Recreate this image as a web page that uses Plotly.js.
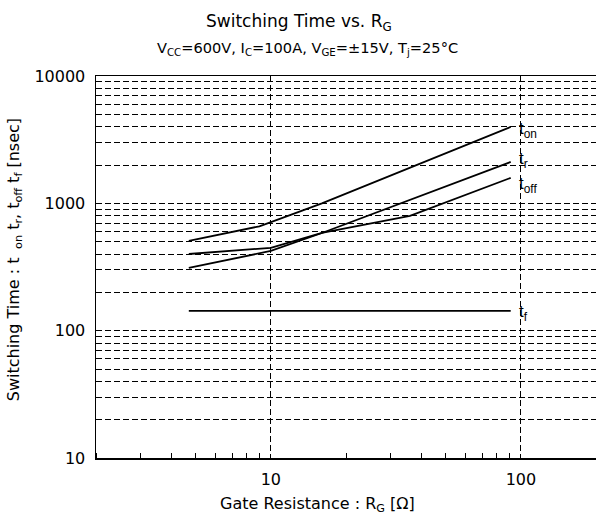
<!DOCTYPE html>
<html><head><meta charset="utf-8">
<script src="https://cdn.plot.ly/plotly-3.0.1.min.js"></script>
<style>html,body{margin:0;padding:0;overflow:hidden;background:#fff;width:596px;height:514px}</style>
</head><body><div id="chart"></div>
<script>
// Gate resistance (ohm) and switching times (nsec)
var rgOn = [4.7, 9, 16, 40, 91];
var tOn = [507, 660, 1000, 2075, 3985];
var rgR = [4.7, 10, 16, 40, 91];
var tR = [311, 423, 585, 1143, 2114];
var rgOff = [4.7, 10, 16, 36, 91];
var tOff = [400, 447, 585, 796, 1586];
var rgF = [4.7, 91];
var tF = [143, 143];

var yTickVals = [], yTickText = [];
[10, 100, 1000].forEach(function(d){
  for (var k = 1; k <= 9; k++) { yTickVals.push(k*d); yTickText.push(k === 1 ? String(d) : ''); }
});
yTickVals.push(10000); yTickText.push('10000');
var xMinor = [2,3,4,5,6,7,8,9,20,30,40,50,60,70,80,90,200,300];

var line = {color:'#000', width:1.8};
var traces = [
  {x: rgOn, y: tOn, mode:'lines', line: line},
  {x: rgR, y: tR, mode:'lines', line: line},
  {x: rgOff, y: tOff, mode:'lines', line: line},
  {x: rgF, y: tF, mode:'lines', line: line}
];
var F = 'DejaVu Sans, sans-serif';
var L = 'Liberation Sans, Arial, sans-serif';
var lab = function(x, y, t){ return {xref:'x', yref:'y', x:x, y:y, text:t, showarrow:false, xanchor:'left', yanchor:'middle', font:{family:L, size:17, color:'#000'}}; };
var layout = {
  width: 650, height: 514,
  margin: {l:96, r:4, t:76, b:56},
  paper_bgcolor:'#fff', plot_bgcolor:'#fff',
  showlegend:false,
  font:{family:F, color:'#000', size:15},
  xaxis: {type:'log', range:[Math.log10(2), 2.5], tickvals:[10,100], ticktext:['10','100'],
    showgrid:true, gridcolor:'#000', griddash:'6px,3px', gridwidth:1,
    ticks:'', showline:true, linecolor:'#000', linewidth:1.5, mirror:true, zeroline:false,
    tickfont:{size:16, family:F}, ticklabelstandoff:6,
    minor:{tickvals:xMinor, ticks:'inside', ticklen:5, tickcolor:'#000', showgrid:false}},
  yaxis: {type:'log', range:[1,4], tickvals:yTickVals, ticktext:yTickText,
    showgrid:true, gridcolor:'#000', griddash:'6px,3px', gridwidth:1,
    ticks:'', showline:true, linecolor:'#000', linewidth:1.5, mirror:true, zeroline:false,
    tickfont:{size:16, family:F}, ticklabelstandoff:6},
  annotations: [
    {xref:'paper', yref:'paper', x:0.369, y:1.175, text:'Switching Time vs. R<sub>G</sub>', showarrow:false, font:{family:F, size:17}},
    {xref:'paper', yref:'paper', x:0.384, y:1.102, text:'V<sub>CC</sub>=600V, I<sub>C</sub>=100A, V<sub>GE</sub>=±15V, T<sub>j</sub>=25°C', showarrow:false, font:{family:F, size:14.6}},
    {xref:'paper', yref:'paper', x:0.403, y:-0.155, text:'Gate Resistance : R<sub>G</sub> [Ω]', showarrow:false, font:{family:F, size:16}},
    {xref:'paper', yref:'paper', x:-0.172, y:0.52, text:'Switching Time : t <sub> on</sub> t<sub>r</sub>, t<sub>off</sub> t<sub>f</sub> [nsec]', textangle:-90, showarrow:false, font:{family:F, size:16}},
    lab(1.984, 3.577, 't<sub>on</sub>'),
    lab(1.984, 3.341, 't<sub>r</sub>'),
    lab(1.984, 3.145, 't<sub>off</sub>'),
    lab(1.984, 2.139, 't<sub>f</sub>')
  ]
};
Plotly.newPlot('chart', traces, layout, {displayModeBar:false, staticPlot:true});
</script></body></html>
